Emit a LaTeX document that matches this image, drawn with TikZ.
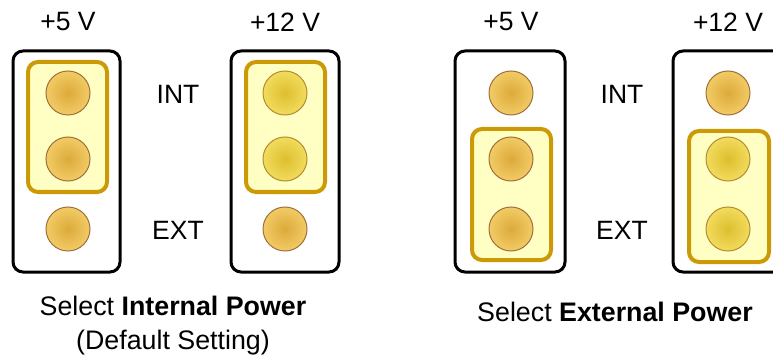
\documentclass[tikz,border=0pt]{standalone}
\usepackage{fontspec}
\setmainfont{Liberation Sans}
\usepackage{tikz}
\usetikzlibrary{positioning}
\definecolor{pinedge}{HTML}{A0703A}
\definecolor{pinout}{HTML}{F2CB66}
\definecolor{pinin}{HTML}{DCAA3A}
\definecolor{hotout}{HTML}{F2DC5E}
\definecolor{hotin}{HTML}{DDBE2E}
\definecolor{jumpfill}{HTML}{FFFFC4}
\definecolor{jumpedge}{HTML}{CC9A06}
\newcommand{\lblfont}{\fontsize{26.5}{30}\selectfont}
\newcommand{\capfont}{\fontsize{26.8}{34}\selectfont}

\begin{document}
\begin{tikzpicture}[x=1pt,y=-1pt,
    header/.style={draw=black, line width=3pt, rounded corners=10pt},
    jumper/.style={draw=jumpedge, fill=jumpfill, line width=4pt, rounded corners=10pt},
    jpin/.style={circle, minimum size=44pt, inner sep=0pt, draw=pinedge, line width=1pt,
      inner color=pinin, outer color=pinout},
    jpinhot/.style={jpin, draw=pinedge!80!yellow, inner color=hotin, outer color=hotout},
    lbl/.style={font=\lblfont, inner sep=0pt}]
  \useasboundingbox (0,0) rectangle (773,358);

  % default setting: internal power
  \draw[header] (13,51) rectangle (120,272);
  \draw[header] (231,51) rectangle (339,272);
  \draw[jumper] (28,62) rectangle (107,192);
  \draw[jumper] (246,62) rectangle (325,192);
  \node[jpin] (a1) at (68,93) {};
  \node[jpin] (a2) at (68,159) {};
  \node[jpin] (a3) at (68,229) {};
  \node[jpinhot] (b1) at (285,93) {};
  \node[jpinhot] (b2) at (285,159) {};
  \node[jpin] (b3) at (285,229) {};
  \node[lbl] (v5a) at (68,22) {+5 V};
  \node[lbl] (v12a) at (285,22) {+12 V};
  \node[lbl] (inta) at (178,94) {INT};
  \node[lbl] (exta) at (178,230) {EXT};
  \node[align=center, font=\capfont, inner sep=0pt] (capa) at (173,326)
    {Select \textbf{Internal Power}\\(Default Setting)};

  % external power
  \draw[header] (455,51) rectangle (565,272);
  \draw[header] (673,51) rectangle (785,272);
  \draw[jumper] (472,129) rectangle (551,260);
  \draw[jumper] (689,131) rectangle (769,262);
  \node[jpin] (c1) at (511,93) {};
  \node[jpin] (c2) at (511,159) {};
  \node[jpin] (c3) at (511,229) {};
  \node[jpin] (d1) at (728,93) {};
  \node[jpinhot] (d2) at (728,159) {};
  \node[jpinhot] (d3) at (728,229) {};
  \node[lbl] (v5b) at (511,22) {+5 V};
  \node[lbl] (v12b) at (728,22) {+12 V};
  \node[lbl] (intb) at (622,94) {INT};
  \node[lbl] (extb) at (622,230) {EXT};
  \node[font=\capfont, inner sep=0pt] (capb) at (615,312)
    {Select \textbf{External Power}};
\end{tikzpicture}
\end{document}
